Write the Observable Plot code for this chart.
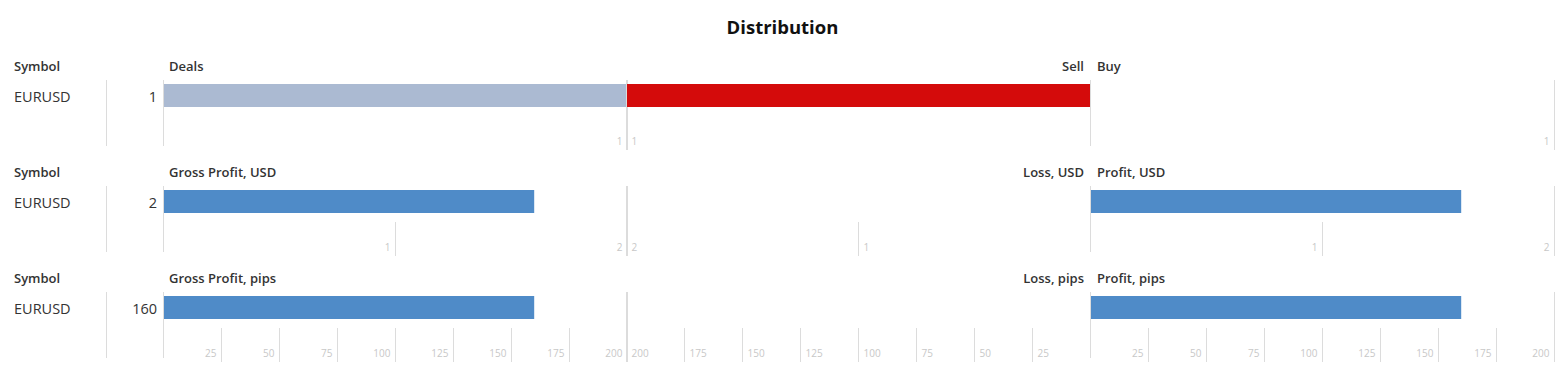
<!DOCTYPE html>
<html><head><meta charset="utf-8">
<script src="https://cdn.jsdelivr.net/npm/d3@7"></script>
<script src="https://cdn.jsdelivr.net/npm/@observablehq/plot@0.6"></script>
<style>
body{margin:0;background:#fff;font-family:"Open Sans","Liberation Sans",Arial,sans-serif;}
#root{position:relative;width:1565px;height:385px;overflow:hidden;}
.t{position:absolute;white-space:nowrap;color:#333;height:20px;line-height:20px;}
.h{font-size:13px;font-weight:600;color:#333;}
.title{position:absolute;left:0;width:1565px;text-align:center;top:16px;line-height:22px;font-weight:bold;font-size:18.5px;color:#111;}
.p{position:absolute;}
.vl{position:absolute;width:1px;background:#dcdcdc;}
</style></head><body><div id="root"></div>
<script>
// ---- data ----
const chartTitle = "Distribution";
const symbols = ["EURUSD"];
const symbolHeader = "Symbol";
const leftHeaders = ["Deals", "Gross Profit, USD", "Gross Profit, pips"];
const midHeaders = ["Sell", "Loss, USD", "Loss, pips"];
const rightHeaders = ["Buy", "Profit, USD", "Profit, pips"];
const totalValues = [1, 1.6, 160];   // deals, gross profit USD, gross profit pips
const midValues = [1, 0, 0];         // sell deals, loss USD, loss pips
const rightValues = [0, 1.6, 160];   // buy deals, profit USD, profit pips
const axisMax = [1, 2, 200];
const tickLabels = [
  [1],
  [1, 2],
  [25, 50, 75, 100, 125, 150, 175, 200]
];

// ---- styles ----
const C = {grey: "#abbad2", red: "#d40b0b", blue: "#4f8bc8", line: "#dcdcdc", tick: "#c8c8c8"};
const leftColor = [C.grey, C.blue, C.blue];
const midColor = [C.red, C.blue, C.blue];
const rightColor = [C.blue, C.blue, C.blue];
const FONT = '"Open Sans", "Liberation Sans", Arial, sans-serif';

const root = document.getElementById("root");
function addText(txt, cls, style) {
  const d = document.createElement("div");
  d.className = cls; d.textContent = txt;
  Object.assign(d.style, style);
  root.appendChild(d);
  return d;
}
addText(chartTitle, "title", {});

function panel(value, max, ticks, reverse, color) {
  const data = symbols.map(s => ({symbol: s, value}));
  return Plot.plot({
    width: 467, height: 70,
    marginLeft: 1, marginRight: 2, marginTop: 0, marginBottom: 0,
    style: {fontFamily: FONT, background: "transparent", overflow: "visible"},
    x: {domain: [0, max], reverse, axis: null},
    y: {type: "band", domain: symbols, range: [4, 27], padding: 0, axis: null},
    marks: [
      Plot.barX(data, {x: "value", y: "symbol", fill: color}),
      Plot.ruleX([0], {stroke: C.line, insetBottom: 4}),
      Plot.ruleX(ticks, {stroke: C.line, insetTop: 36}),
      Plot.ruleX([max], {stroke: C.line}),
      Plot.text(ticks, {x: d => d, frameAnchor: "top", dy: 57,
        textAnchor: reverse ? "start" : "end", dx: reverse ? 5 : -5,
        fill: C.tick, fontSize: 10})
    ]
  });
}

const rowTop = [80, 186, 292];
const panelLeft = [162, 625, 1089];
for (let i = 0; i < 3; i++) {
  const top = rowTop[i];
  const hy = top - 14;   // header center
  const vy = top + 17;   // value center
  addText(symbolHeader, "t h", {left: "14px", top: (hy - 10) + "px"});
  addText(symbols[0], "t", {left: "14px", top: (vy - 10) + "px", fontSize: "14.5px"});
  addText(String(Math.round(totalValues[i])), "t", {right: (1565 - 157) + "px", top: (vy - 10) + "px", fontSize: "14.5px"});
  addText(leftHeaders[i], "t h", {left: "169px", top: (hy - 10) + "px"});
  addText(midHeaders[i], "t h", {right: (1565 - 1084) + "px", top: (hy - 10) + "px"});
  addText(rightHeaders[i], "t h", {left: "1097px", top: (hy - 10) + "px"});
  const vl = document.createElement("div");
  vl.className = "vl";
  Object.assign(vl.style, {left: "106px", top: top + "px", height: "66px"});
  root.appendChild(vl);

  const vals = [totalValues[i], midValues[i], rightValues[i]];
  const cols = [leftColor[i], midColor[i], rightColor[i]];
  for (let j = 0; j < 3; j++) {
    const svg = panel(vals[j], axisMax[i], tickLabels[i], j === 1, cols[j]);
    svg.classList.add("p");
    svg.style.left = panelLeft[j] + "px";
    svg.style.top = top + "px";
    root.appendChild(svg);
  }
}
</script>
</body></html>
